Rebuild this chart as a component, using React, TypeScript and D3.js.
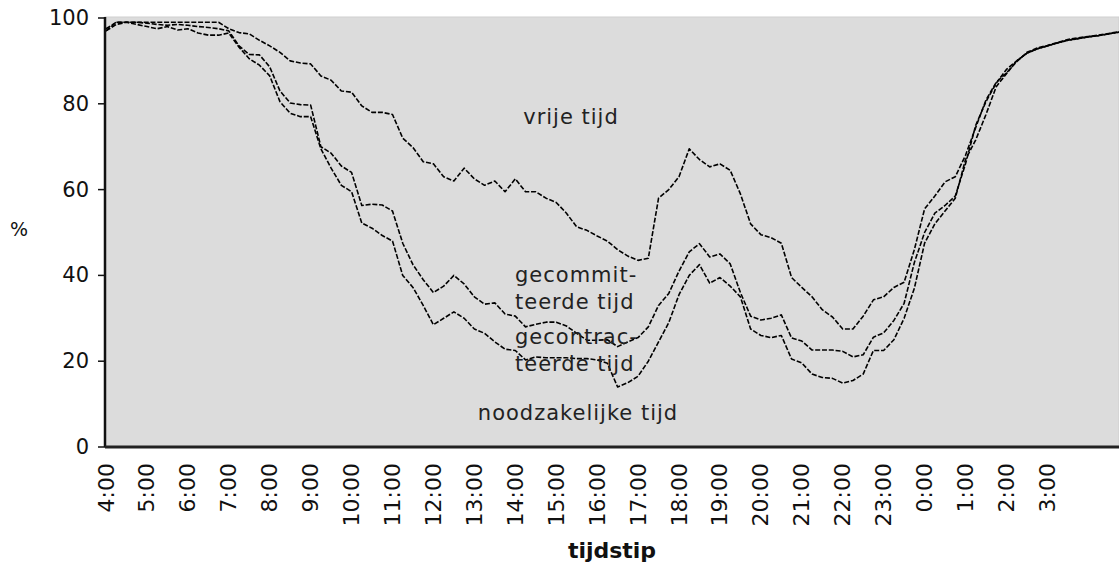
import React from 'react';
import * as d3 from 'd3';

// quarter-hour samples from 4:00 until 4:45 next morning
const times = d3.range(0, 100).map(i => 4 + i * 0.25);

const hourLabels = [
  '4:00', '5:00', '6:00', '7:00', '8:00', '9:00', '10:00', '11:00', '12:00',
  '13:00', '14:00', '15:00', '16:00', '17:00', '18:00', '19:00', '20:00',
  '21:00', '22:00', '23:00', '0:00', '1:00', '2:00', '3:00'
];

const yTicks = [0, 20, 40, 60, 80, 100];

// boundary between vrije tijd (above) and gecommitteerde tijd
const lineVrij = [
  97, 99, 99, 99, 99, 99, 99, 99, 99, 99, 99, 99,
  97.5, 96.6, 96.3, 94.8, 93.5, 92, 90, 89.5, 89.3, 86.5, 85.5, 83,
  82.7, 79.5, 78, 78, 77.5, 72, 69.8, 66.5, 66, 63, 62, 65,
  62.5, 61, 62, 59.5, 62.5, 59.5, 59.5, 58, 57, 54.5, 51.3, 50.5,
  49.2, 48, 46, 44.5, 43.5, 44, 58, 60, 63, 69.5, 67, 65.3,
  66, 64.5, 59, 52, 49.5, 48.8, 47.5, 39.5, 37.2, 35, 32, 30.3,
  27.5, 27.5, 30.5, 34.3, 35, 37.2, 38.4, 46, 55.5, 58.5, 61.8, 63,
  68, 74.5, 80.9, 85, 87.2, 89.8, 92, 93, 93.6, 94.3, 95, 95.4,
  95.7, 96, 96.4, 96.8
];

// boundary between gecommitteerde and gecontracteerde tijd
const lineGecommitteerd = [
  97.5, 99, 99, 99, 98.8, 98.5, 98.3, 98.5, 98.3, 98, 97.8, 97.5,
  97, 93.5, 91.5, 91.4, 88.6, 83, 80.2, 79.8, 79.7, 70, 68.5, 65.5,
  64, 56.3, 56.6, 56.4, 55, 47.5, 42.5, 39, 36, 37.5, 40, 38,
  35, 33.3, 33.6, 31, 30.5, 28, 28.6, 29.1, 29.1, 28.2, 26.5, 24.9,
  24.9, 25, 23.4, 24.5, 25.5, 28, 33, 35.8, 41, 45.5, 47.4, 44.3,
  45, 42.7, 36, 30.5, 29.6, 30, 30.8, 25.4, 24.7, 22.6, 22.6, 22.6,
  22.3, 21, 21.5, 25.6, 26.6, 29.5, 33.5, 43, 50, 54.5, 56.3, 58.5,
  66, 75, 80.5, 84.8, 88, 90, 91.8, 92.8, 93.5, 94.2, 94.8, 95.2,
  95.6, 95.9, 96.3, 96.7
];

// boundary between gecontracteerde and noodzakelijke tijd
const lineGecontracteerd = [
  97, 98.5, 99, 98.5, 98, 97.5, 98, 97.2, 97.5, 96.5, 96, 96,
  96.5, 93.2, 90.5, 89, 86.5, 80.5, 77.8, 77, 77, 69.5, 65, 61,
  59.5, 52.2, 51, 49.3, 48, 40, 37.2, 33, 28.5, 30, 31.5, 30,
  27.5, 26.5, 24.5, 22.8, 22.5, 20.3, 21, 20.8, 20.8, 20.8, 20.6, 20.6,
  20.3, 19.5, 14, 15, 16.5, 20, 24.5, 29, 35.5, 40, 42.5, 38.2,
  39.5, 37.5, 35, 27.5, 26, 25.5, 26, 20.5, 19.6, 17, 16.2, 16,
  14.9, 15.5, 17, 22.5, 22.5, 25, 30, 37, 47.5, 52, 55, 58,
  67, 71.6, 77.5, 84, 87, 90, 91.8, 92.8, 93.5, 94.2, 94.8, 95.2,
  95.6, 95.9, 96.3, 96.7
];

const series = [lineVrij, lineGecommitteerd, lineGecontracteerd];

const regionLabels = [
  { lines: ['vrije tijd'], x: 571, y: 117, anchor: 'middle' },
  { lines: ['gecommit-', 'teerde tijd'], x: 515, y: 275, anchor: 'start' },
  { lines: ['gecontrac-', 'teerde tijd'], x: 515, y: 337, anchor: 'start' },
  { lines: ['noodzakelijke tijd'], x: 578, y: 413, anchor: 'middle' }
];

const W = 1119;
const H = 569;
const margin = { top: 18, right: 0, bottom: 122, left: 105 };
const font = '"DejaVu Sans", Verdana, sans-serif';

const App = () => {
  const x = d3.scaleLinear()
    .domain([4, 28.75])
    .range([margin.left + 1, W - margin.right]);
  const y = d3.scaleLinear()
    .domain([0, 100])
    .range([H - margin.bottom, margin.top]);

  const line = d3.line<number>()
    .x((_, i) => x(times[i]))
    .y(d => y(d));

  const plotBottom = y(0);

  return (
    <svg width={W} height={H} style={{ position: 'absolute', left: 0, top: 0, display: 'block' }}
      fontFamily={font}>
      <rect x={0} y={0} width={W} height={H} fill="#fff" />
      {/* plot area */}
      <rect x={margin.left} y={y(100) - 1} width={W - margin.left} height={plotBottom - y(100) + 1}
        fill="#dcdcdc" stroke="#cfcfcf" strokeWidth={1} />

      {/* data lines */}
      {series.map((s, k) => (
        <path key={k} d={line(s) || ''} fill="none" stroke="#000" strokeWidth={1.6}
          strokeDasharray="5 1.8" strokeLinejoin="round" />
      ))}

      {/* region labels */}
      {regionLabels.map((r, k) => (
        <text key={k} x={r.x} y={r.y} textAnchor={r.anchor} fontSize={21} fill="#222"
          letterSpacing={1} dominantBaseline="central">
          {r.lines.map((t, j) => (
            <tspan key={j} x={r.x} dy={j === 0 ? 0 : 27}>{t}</tspan>
          ))}
        </text>
      ))}

      {/* y axis */}
      <line x1={margin.left} x2={margin.left} y1={y(100) - 1} y2={plotBottom} stroke="#111" strokeWidth={2.5} />
      {yTicks.map(t => (
        <g key={t}>
          <line x1={margin.left - 7} x2={margin.left} y1={y(t)} y2={y(t)} stroke="#111" strokeWidth={1.5} />
          <text x={89} y={y(t)} textAnchor="end" dominantBaseline="central" fontSize={21} fill="#111">{t}</text>
        </g>
      ))}
      <text x={19} y={229} textAnchor="middle" dominantBaseline="central" fontSize={19} fill="#111">%</text>

      {/* x axis */}
      <line x1={margin.left} x2={W} y1={plotBottom} y2={plotBottom} stroke="#222" strokeWidth={3} />
      {hourLabels.map((lab, i) => (
        <text key={lab} transform={`translate(${x(4 + i)},${plotBottom + 16}) rotate(-90)`}
          textAnchor="end" dominantBaseline="central" fontSize={22} fill="#111">{lab}</text>
      ))}
      <text x={612} y={550} textAnchor="middle" dominantBaseline="central" fontSize={22}
        fontWeight="bold" fill="#111">tijdstip</text>
    </svg>
  );
};

export default App;
